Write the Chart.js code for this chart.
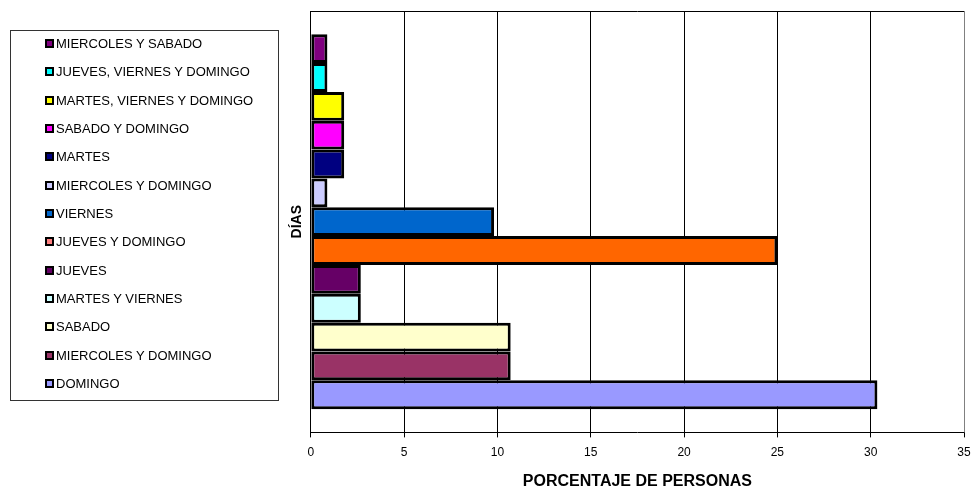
<!DOCTYPE html>
<html>
<head>
<meta charset="utf-8">
<script src="https://cdn.jsdelivr.net/npm/chart.js@4.4.1/dist/chart.umd.min.js"></script>
<style>
    body { margin: 0; background: #fff; }
    #wrap { position: relative; width: 972px; height: 491px; }
    #myChart { position: absolute; left: 0; top: 0; }
    #leyenda {
        position: absolute; left: 10px; top: 30px; width: 269px; height: 371px;
        border: 1px solid #333; box-sizing: border-box;
        font-family: Arial, "Liberation Sans", sans-serif; font-size: 13px; color: #000;
    }
    .item { position: absolute; left: 34px; height: 15px; line-height: 15px; white-space: nowrap; }
    .caja {
        display: inline-block; width: 5px; height: 5px; border: 2px solid #000;
        vertical-align: 0px; margin-right: 2px;
    }
</style>
</head>
<body>
<div id="wrap">
    <canvas id="myChart" width="972" height="491"></canvas>
    <div id="leyenda"></div>
</div>
<script>
    // datos del grafico (porcentaje de personas por dias)
    let dias = ['MIERCOLES Y SABADO', 'JUEVES, VIERNES Y DOMINGO', 'MARTES, VIERNES Y DOMINGO',
        'SABADO Y DOMINGO', 'MARTES', 'MIERCOLES Y DOMINGO', 'VIERNES', 'JUEVES Y DOMINGO',
        'JUEVES', 'MARTES Y VIERNES', 'SABADO', 'MIERCOLES Y DOMINGO', 'DOMINGO'];
    let porcentaje = [0.89, 0.89, 1.79, 1.79, 1.79, 0.89, 9.82, 25, 2.68, 2.68, 10.71, 10.71, 30.36];
    let colores = ['#800080', '#00FFFF', '#FFFF00', '#FF00FF', '#000080', '#CCCCFF', '#0066CC',
        '#FF6600', '#660066', '#CCFFFF', '#FFFFCC', '#993366', '#9999FF'];
    let coloresLeyenda = ['#800080', '#00FFFF', '#FFFF00', '#FF00FF', '#000080', '#CCCCFF', '#0066CC',
        '#FF8080', '#660066', '#CCFFFF', '#FFFFCC', '#993366', '#9999FF'];
    let ticksX = [0, 5, 10, 15, 20, 25, 30, 35];

    let fuente = 'Arial, "Liberation Sans", sans-serif';

    let datasets = [];
    dias.forEach(function (d, i) {
        datasets.push({
            label: d,
            data: [porcentaje[i]],
            backgroundColor: colores[i],
            borderColor: '#000',
            borderWidth: 3,
            borderSkipped: false,
            barPercentage: 1,
            categoryPercentage: 0.89
        });
    });

    // leyenda en html con recuadro
    let leyenda = document.getElementById('leyenda');
    dias.forEach(function (d, i) {
        let div = document.createElement('div');
        div.className = 'item';
        div.style.top = (5 + i * 28.33) + 'px';
        div.innerHTML = '<span class="caja" style="background:' + coloresLeyenda[i] + '"></span>' + d;
        leyenda.appendChild(div);
    });

    let marco = {
        id: 'marco',
        afterDraw: function (chart) {
            let a = chart.chartArea;
            let c = chart.ctx;
            c.save();
            c.lineWidth = 1;
            c.strokeStyle = '#000';
            c.beginPath();
            c.moveTo(a.left, a.top + 0.5);
            c.lineTo(a.right, a.top + 0.5);
            c.stroke();
            c.strokeStyle = '#808080';
            c.beginPath();
            c.moveTo(a.right + 0.5, a.top);
            c.lineTo(a.right + 0.5, a.bottom);
            c.stroke();
            c.restore();
        }
    };

    let ctx = document.getElementById('myChart').getContext('2d');
    let myChart = new Chart(ctx, {
        type: 'bar',
        data: {
            labels: [''],
            datasets: datasets
        },
        plugins: [marco],
        options: {
            indexAxis: 'y',
            responsive: false,
            animation: false,
            layout: { padding: { left: 284, top: 11, right: 8, bottom: 0 } },
            plugins: {
                legend: { display: false },
                tooltip: { enabled: false }
            },
            scales: {
                x: {
                    min: 0,
                    max: 35,
                    afterBuildTicks: function (axis) {
                        axis.ticks = ticksX.map(function (v) { return { value: v }; });
                    },
                    afterFit: function (axis) {
                        axis.paddingRight = 0;
                        axis.paddingLeft = 0;
                    },
                    grid: { color: '#000', lineWidth: 1, tickLength: 5 },
                    border: { color: '#000', width: 1 },
                    ticks: { color: '#000', font: { family: fuente, size: 12 }, padding: 8 },
                    title: {
                        display: true, text: 'PORCENTAJE DE PERSONAS', color: '#000',
                        font: { family: fuente, size: 16, weight: 'bold' }, padding: { top: 4, bottom: 0 }
                    }
                },
                y: {
                    grid: { display: false, drawTicks: false },
                    border: { color: '#000', width: 1 },
                    ticks: { display: false },
                    title: {
                        display: true, text: 'DÍAS', color: '#000',
                        font: { family: fuente, size: 14, weight: 'bold' }, padding: 5
                    }
                }
            }
        }
    });
</script>
</body>
</html>
